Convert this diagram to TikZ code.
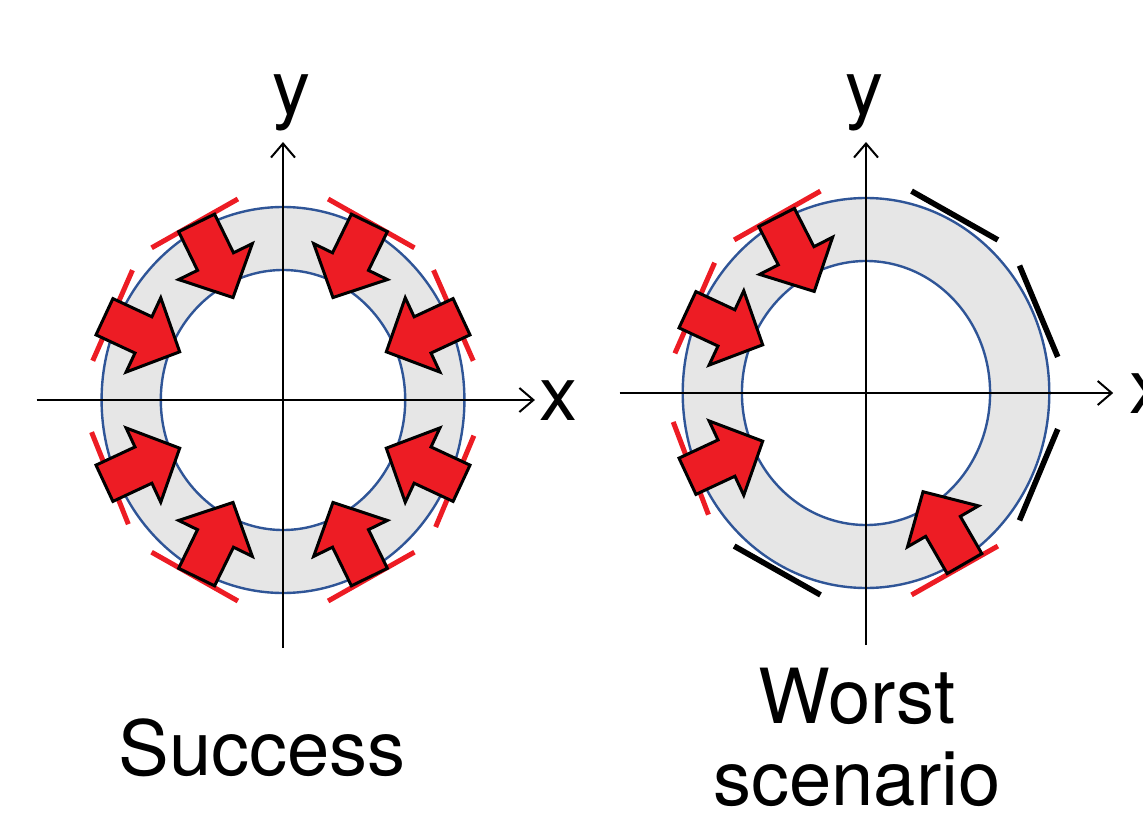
\documentclass[tikz,border=0pt]{standalone}
\usepackage{fontspec}
\setmainfont{TeX Gyre Heros}
\usetikzlibrary{arrows.meta}

\definecolor{ringblue}{RGB}{47,85,151}
\definecolor{pushred}{RGB}{237,28,36}
\definecolor{ringgray}{RGB}{230,230,230}

\begin{document}
\begin{tikzpicture}[
  x=0.5pt, y=0.5pt,
  ring/.style     = {ringblue, line width=1.2pt},
  axis/.style     = {-{Straight Barb[length=7pt,width=12pt]}, line width=1pt},
  redbar/.style   = {pushred, line width=2.5pt},
  blackbar/.style = {black, line width=2.8pt},
  lbl/.style      = {font=\fontsize{38}{39}\selectfont, inner sep=0pt},
  pusharrow/.pic  = {
    \draw[fill=pushred, line width=1.5pt, line join=miter]
      (197,20) -- (154,20) -- (154,41) -- (114,0) -- (154,-41)
      -- (154,-20) -- (197,-20) -- cycle;
  }
]
\useasboundingbox (0,0) rectangle (1143,815);

% ---- LEFT PANEL: Success ----
\begin{scope}[shift={(283,415)}, xscale=0.94]
  \fill[ringgray, even odd rule] (0,0) circle (193) (0,0) circle (130);
  \draw[ring] (0,0) circle (193);
  \draw[ring] (0,0) circle (130);
  \draw[axis] (-262,0) -- (268,0);
  \draw[axis] (0,-248) -- (0,258);
  \node[lbl, anchor=base] (lx) at (293,-20) {x};
  \node[lbl, anchor=base] (ly) at (9,285) {y};
  % tangent bars
  \draw[redbar, rotate=25]  (200,-50) -- (200,50);
  \draw[redbar, rotate=62]  (200,-52) -- (200,52);
  \draw[redbar, rotate=118] (200,-52) -- (200,52);
  \draw[redbar, rotate=155] (200,-50) -- (200,50);
  \draw[redbar, rotate=203] (200,-50) -- (200,50);
  \draw[redbar, rotate=242] (200,-52) -- (200,52);
  \draw[redbar, rotate=298] (200,-52) -- (200,52);
  \draw[redbar, rotate=336] (200,-50) -- (200,50);
  % pressure arrows
  \pic[rotate=25]  at (0,0) {pusharrow};
  \pic[rotate=64]  at (0,0) {pusharrow};
  \pic[rotate=116] at (0,0) {pusharrow};
  \pic[rotate=155] at (0,0) {pusharrow};
  \pic[rotate=205] at (0,0) {pusharrow};
  \pic[rotate=244] at (0,0) {pusharrow};
  \pic[rotate=296] at (0,0) {pusharrow};
  \pic[rotate=335] at (0,0) {pusharrow};
\end{scope}

% ---- RIGHT PANEL: Worst scenario ----
\begin{scope}[shift={(866,422)}, xscale=0.94]
  \fill[ringgray, even odd rule] (0,0) circle (195) (0,0) circle (132);
  \draw[ring] (0,0) circle (195);
  \draw[ring] (0,0) circle (132);
  \draw[axis] (-262,0) -- (263,0);
  \draw[axis] (0,-252) -- (0,251);
  \node[lbl, anchor=base] (rx) at (300,-20) {x};
  \node[lbl, anchor=base] (ry) at (-2,278) {y};
  % tangent bars
  \draw[blackbar, rotate=24]  (201,-50) -- (201,50);
  \draw[blackbar, rotate=62]  (201,-52) -- (201,52);
  \draw[redbar,   rotate=118] (201,-52) -- (201,52);
  \draw[redbar,   rotate=155] (201,-50) -- (201,50);
  \draw[redbar,   rotate=202] (201,-50) -- (201,50);
  \draw[blackbar, rotate=242] (201,-52) -- (201,52);
  \draw[redbar,   rotate=298] (201,-52) -- (201,52);
  \draw[blackbar, rotate=336] (201,-50) -- (201,50);
  % pressure arrows
  \pic[rotate=117] at (0,0) {pusharrow};
  \pic[rotate=155] at (0,0) {pusharrow};
  \pic[rotate=205] at (0,0) {pusharrow};
  \pic[rotate=300] at (0,0) {pusharrow};
\end{scope}

% ---- captions ----
\node[lbl, anchor=base] (success) at (262,40) {Success};
\node[lbl, font=\fontsize{38}{41}\selectfont, anchor=base, align=center]
  (worst) at (857,10) {Worst\\scenario};

\end{tikzpicture}
\end{document}
